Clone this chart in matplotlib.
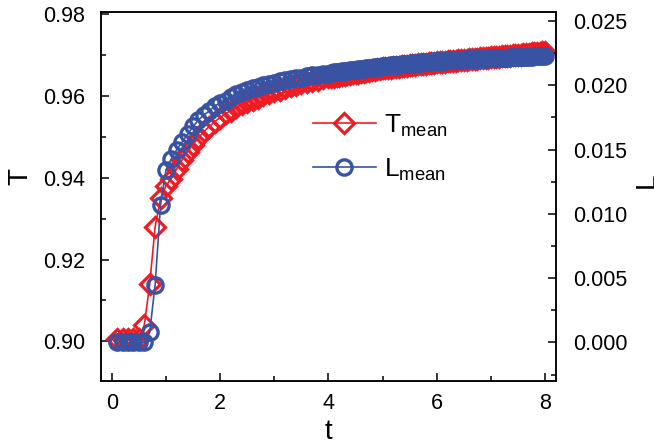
import numpy as np
import matplotlib
matplotlib.use("Agg")
import matplotlib.pyplot as plt
from matplotlib.ticker import MultipleLocator, FormatStrFormatter

plt.rcParams['font.family'] = 'Liberation Sans'
plt.rcParams['mathtext.fontset'] = 'custom'
plt.rcParams['mathtext.rm'] = 'Liberation Sans'

# time grid: 0.1 steps up to t=4, then 0.05 steps up to t=8
t = np.concatenate([np.arange(1, 41) * 0.1, 4.0 + np.arange(1, 81) * 0.05])

T_mean = [
    0.9005, 0.9005, 0.9005, 0.9005, 0.9005, 0.9040, 0.9140, 0.9280, 0.9350, 0.9380,
    0.9398, 0.9422, 0.9444, 0.9464, 0.9481, 0.9498, 0.9513, 0.9525, 0.9537, 0.9547,
    0.9557, 0.9564, 0.9572, 0.9579, 0.9585, 0.9591, 0.9596, 0.9601, 0.9606, 0.9611,
    0.9615, 0.9619, 0.9623, 0.9627, 0.9631, 0.9634, 0.9637, 0.9640, 0.9643, 0.9645,
    0.96461, 0.96472, 0.96483, 0.96494, 0.96505, 0.96516, 0.96527, 0.96538, 0.96549, 0.96560,
    0.96571, 0.96582, 0.96593, 0.96604, 0.96615, 0.96626, 0.96637, 0.96648, 0.96659, 0.96670,
    0.96678, 0.96685, 0.96693, 0.96700, 0.96708, 0.96715, 0.96723, 0.96730, 0.96738, 0.96745,
    0.96753, 0.96760, 0.96768, 0.96775, 0.96783, 0.96790, 0.96798, 0.96805, 0.96813, 0.96820,
    0.96826, 0.96832, 0.96838, 0.96844, 0.96850, 0.96856, 0.96862, 0.96868, 0.96874, 0.96880,
    0.96886, 0.96892, 0.96898, 0.96904, 0.96910, 0.96916, 0.96922, 0.96928, 0.96934, 0.96940,
    0.96946, 0.96953, 0.96959, 0.96966, 0.96972, 0.96979, 0.96985, 0.96992, 0.96998, 0.97005,
    0.97011, 0.97018, 0.97024, 0.97031, 0.97037, 0.97044, 0.97050, 0.97057, 0.97063, 0.97070,
]

L_mean = [
    0.0, 0.0, 0.0, 0.0, 0.0, 0.0, 0.0008, 0.0045, 0.0107, 0.0134,
    0.0143, 0.0150, 0.0156, 0.0162, 0.0168, 0.0173, 0.0177, 0.0180, 0.0184, 0.0186,
    0.0188, 0.0191, 0.0193, 0.0195, 0.0196, 0.0198, 0.0199, 0.0200, 0.0201, 0.0202,
    0.0203, 0.0204, 0.0205, 0.0206, 0.0206, 0.0207, 0.0208, 0.0208, 0.0209, 0.0209,
    0.02097, 0.02100, 0.02102, 0.02105, 0.02108, 0.02110, 0.02113, 0.02116, 0.02118, 0.02121,
    0.02124, 0.02126, 0.02129, 0.02132, 0.02134, 0.02137, 0.02140, 0.02142, 0.02145, 0.02148,
    0.02150, 0.02152, 0.02154, 0.02156, 0.02158, 0.02160, 0.02162, 0.02164, 0.02166, 0.02168,
    0.02170, 0.02172, 0.02174, 0.02176, 0.02178, 0.02180, 0.02182, 0.02184, 0.02186, 0.02188,
    0.02189, 0.02190, 0.02191, 0.02193, 0.02194, 0.02195, 0.02196, 0.02197, 0.02198, 0.02199,
    0.02201, 0.02202, 0.02203, 0.02204, 0.02205, 0.02206, 0.02207, 0.02208, 0.02210, 0.02211,
    0.02212, 0.02213, 0.02213, 0.02214, 0.02215, 0.02216, 0.02217, 0.02217, 0.02218, 0.02219,
    0.02220, 0.02221, 0.02221, 0.02222, 0.02223, 0.02224, 0.02225, 0.02225, 0.02226, 0.02227,
]

red = '#ed1c24'
blue = '#3953a4'

fig = plt.figure(figsize=(6.54, 4.46), dpi=100)
ax = fig.add_axes([0.1544, 0.1457, 0.6957, 0.8274])
ax2 = ax.twinx()

l1, = ax.plot(t, T_mean, color=red, lw=1.2, marker='D', ms=10, mfc='none',
              mec=red, mew=2.3, label=r'T$_{\rm mean}$')
l2, = ax2.plot(t, L_mean, color=blue, lw=1.2, marker='o', ms=11, mfc='none',
               mec=blue, mew=2.4, label=r'L$_{\rm mean}$')

ax.set_xlim(-0.2, 8.2)
ax.set_ylim(0.8903, 0.9805)
ax2.set_ylim(-0.0030, 0.0257)

ax.xaxis.set_major_locator(MultipleLocator(2))
ax.xaxis.set_minor_locator(MultipleLocator(1))
ax.yaxis.set_major_locator(MultipleLocator(0.02))
ax.yaxis.set_minor_locator(MultipleLocator(0.01))
ax.yaxis.set_major_formatter(FormatStrFormatter('%.2f'))
ax2.yaxis.set_major_locator(MultipleLocator(0.005))
ax2.yaxis.set_minor_locator(MultipleLocator(0.0025))
ax2.yaxis.set_major_formatter(FormatStrFormatter('%.3f'))

for a in (ax, ax2):
    a.tick_params(which='both', direction='in', width=1.1, labelsize=15.5)
    a.tick_params(which='major', length=6)
    a.tick_params(which='minor', length=3.5)
    for s in a.spines.values():
        s.set_linewidth(1.1)
ax.tick_params(axis='y', pad=11.5)
ax.tick_params(axis='x', pad=8.5)
ax2.tick_params(axis='y', pad=12)

ax.set_xlabel('t', fontsize=20)
ax.set_ylabel('T', fontsize=20)
ax2.set_ylabel('L', fontsize=20, rotation=90)
ax.xaxis.set_label_coords(0.499, -0.103)
ax.yaxis.set_label_coords(-0.149, 0.553)
ax2.yaxis.set_label_coords(1.171, 0.545)

ax.legend(handles=[l1, l2], loc='center left', bbox_to_anchor=(0.478, 0.669),
          bbox_transform=fig.transFigure, frameon=False, fontsize=19,
          handlelength=2.4, handletextpad=0.3, borderpad=0, borderaxespad=0,
          labelspacing=0.65)

fig.savefig('out.png', dpi=100)
